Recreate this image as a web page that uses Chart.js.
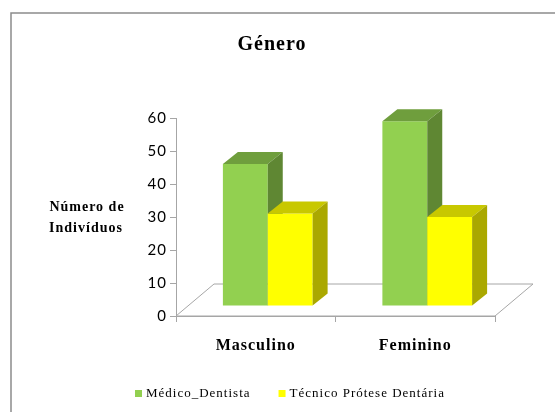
<!DOCTYPE html>
<html>
<head>
<meta charset="utf-8">
<script src="https://cdn.jsdelivr.net/npm/chart.js@4"></script>
<style>
  body { margin: 0; background: #fff; }
  canvas { display: block; }
</style>
</head>
<body>
<canvas id="chartGenero" width="555" height="412"></canvas>
<script>
const categories = ['Masculino', 'Feminino'];
const medicoDentista = [43, 56];
const tecnicoProtese = [28, 27];
const yTicks = [0, 10, 20, 30, 40, 50, 60];

const serif = '"Liberation Serif", "Times New Roman", serif';

// cores das faces 3D (topo, lado)
const faces = [
  { top: '#6f9e3d', side: '#5f8733' },
  { top: '#c8c800', side: '#aaa800' }
];

// deslocamento das barras no chao e profundidade
const barShift = { x: 12, y: 10 };
const barDepth = { x: 15, y: 12 };
const floorDepth = { x: 38, y: 32 };

const fakeThreeD = {
  id: 'fakeThreeD',
  beforeDraw(chart) {
    const ctx = chart.ctx;
    // texto do original aparece esticado na horizontal
    ctx.letterSpacing = '1px';
    ctx.save();
    ctx.strokeStyle = '#8c8c8c';
    ctx.lineWidth = 1.5;
    ctx.beginPath();
    ctx.moveTo(11, 412);
    ctx.lineTo(11, 13);
    ctx.lineTo(555, 13);
    ctx.stroke();
    ctx.restore();
  },
  beforeDatasetsDraw(chart) {
    const ctx = chart.ctx;
    const a = chart.chartArea;
    ctx.save();
    ctx.fillStyle = '#fff';
    ctx.strokeStyle = '#a6a6a6';
    ctx.lineWidth = 1;
    ctx.beginPath();
    ctx.moveTo(a.left, a.bottom);
    ctx.lineTo(a.left + floorDepth.x, a.bottom - floorDepth.y);
    ctx.lineTo(a.right + floorDepth.x, a.bottom - floorDepth.y);
    ctx.lineTo(a.right, a.bottom);
    ctx.closePath();
    ctx.fill();
    ctx.stroke();
    ctx.restore();
  },
  // as barras sao desenhadas abaixo, na ordem certa para o efeito 3D
  beforeDatasetDraw() {
    return false;
  },
  afterDatasetsDraw(chart) {
    const ctx = chart.ctx;
    ctx.save();
    ctx.translate(barShift.x, -barShift.y);
    chart.data.datasets.forEach((ds, i) => {
      const f = faces[i];
      chart.getDatasetMeta(i).data.forEach(bar => {
        bar.draw(ctx);
        const l = bar.x - bar.width / 2;
        const r = bar.x + bar.width / 2;
        const t = bar.y;
        const b = bar.base;
        ctx.fillStyle = f.top;
        ctx.beginPath();
        ctx.moveTo(l, t);
        ctx.lineTo(r, t);
        ctx.lineTo(r + barDepth.x, t - barDepth.y);
        ctx.lineTo(l + barDepth.x, t - barDepth.y);
        ctx.closePath();
        ctx.fill();
        ctx.fillStyle = f.side;
        ctx.beginPath();
        ctx.moveTo(r, t);
        ctx.lineTo(r + barDepth.x, t - barDepth.y);
        ctx.lineTo(r + barDepth.x, b - barDepth.y);
        ctx.lineTo(r, b);
        ctx.closePath();
        ctx.fill();
      });
    });
    ctx.restore();
  },
  afterDraw(chart) {
    const ctx = chart.ctx;
    ctx.save();
    ctx.fillStyle = '#000';
    ctx.textAlign = 'center';
    ctx.textBaseline = 'middle';
    ctx.font = 'bold 20px ' + serif;
    ctx.fillText('Género', 272, 45);
    ctx.font = 'bold 14px ' + serif;
    ctx.fillText('Número de', 87, 207);
    ctx.fillText('Indivíduos', 86, 228);

    // legenda
    ctx.font = '13px ' + serif;
    ctx.textAlign = 'left';
    let x = 135;
    chart.data.datasets.forEach(ds => {
      ctx.fillStyle = ds.backgroundColor;
      ctx.fillRect(x, 390, 7, 7);
      ctx.fillStyle = '#000';
      ctx.fillText(ds.label, x + 11, 394);
      x += 11 + ctx.measureText(ds.label).width + 28;
    });
    ctx.restore();
  }
};

new Chart(document.getElementById('chartGenero'), {
  type: 'bar',
  data: {
    labels: categories,
    datasets: [{
      label: 'Médico_Dentista',
      data: medicoDentista,
      backgroundColor: '#92d050',
      borderWidth: 0,
      clip: false
    }, {
      label: 'Técnico Prótese Dentária',
      data: tecnicoProtese,
      backgroundColor: '#ffff00',
      borderWidth: 0,
      clip: false
    }]
  },
  options: {
    responsive: false,
    animation: false,
    layout: {
      padding: { left: 85, right: 60, top: 118, bottom: 36 }
    },
    datasets: {
      bar: { categoryPercentage: 0.5625, barPercentage: 1 }
    },
    scales: {
      x: {
        grid: { drawOnChartArea: false, tickLength: 6, color: '#a6a6a6' },
        border: { color: '#a6a6a6' },
        ticks: {
          padding: 14,
          color: '#000',
          font: { family: serif, size: 16, weight: 'bold' }
        },
        afterFit(s) {
          s.height = 60;
          s.paddingLeft = 0;
          s.paddingRight = 0;
        }
      },
      y: {
        min: 0,
        max: 60,
        afterBuildTicks(s) {
          s.ticks = yTicks.map(v => ({ value: v }));
        },
        grid: { drawOnChartArea: false, tickLength: 6, color: '#a6a6a6' },
        border: { color: '#a6a6a6' },
        ticks: {
          padding: 3,
          color: '#000',
          font: { family: 'Lato, "Open Sans", sans-serif', size: 15 }
        },
        afterFit(s) {
          s.width = 91;
          s.paddingTop = 0;
          s.paddingBottom = 0;
        }
      }
    },
    plugins: {
      legend: { display: false },
      title: { display: false },
      tooltip: { enabled: false }
    }
  },
  plugins: [fakeThreeD]
});
</script>
</body>
</html>
